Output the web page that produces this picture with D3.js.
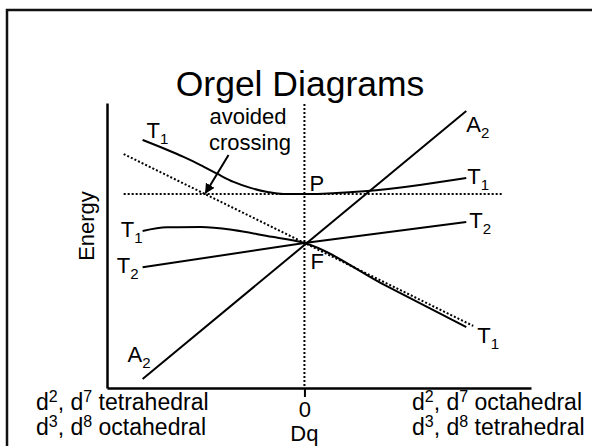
<!DOCTYPE html>
<html>
<head>
<meta charset="utf-8">
<script src="https://cdn.jsdelivr.net/npm/d3@7"></script>
<style>
  body { margin: 0; background: #fff; }
  text { font-family: "Liberation Sans", Arial, sans-serif; fill: #000; }
</style>
</head>
<body>
<div id="chart"></div>
<script>
// energy levels vs Dq (x = Dq, y = energy)
const a2Line = [[-1, -0.84], [1, 0.815]];
const t2Line = [[-1, -0.15], [0, 0], [1, 0.13]];
const t1Lower = [[-1, 0.074], [-0.85, 0.097], [-0.64, 0.098], [-0.44, 0.08], [-0.23, 0.043], [0, 0], [0.5, -0.262], [1, -0.519]];
const t1Upper = [[-1, 0.636], [-0.846, 0.574], [-0.747, 0.531], [-0.642, 0.481], [-0.537, 0.426], [-0.438, 0.377],
                 [-0.333, 0.34], [-0.228, 0.315], [-0.13, 0.302], [0, 0.302], [0.389, 0.321], [1, 0.401]];
// dotted guides
const t1Uncrossed = [[-1.117, 0.549], [1.043, -0.512]];
const pLevel = [[-1.117, 0.302], [1.228, 0.302]];
const dqZero = [[0, 0.858], [0, -0.895]];
const arrowPts = [[-0.469, 0.543], [-0.611, 0.309]];

const tickVals = [0];
const leftLabels = [["d", "2", ", d", "7", " tetrahedral"], ["d", "3", ", d", "8", " octahedral"]];
const rightLabels = [["d", "2", ", d", "7", " octahedral"], ["d", "3", ", d", "8", " tetrahedral"]];

const W = 592, H = 446;
const svg = d3.select("#chart").append("svg")
    .attr("width", W)
    .attr("height", H);

// slide frame
svg.append("rect")
    .attr("x", 7).attr("y", 10)
    .attr("width", W + 20).attr("height", H + 20)
    .attr("fill", "none")
    .attr("stroke", "#111")
    .attr("stroke-width", 2.5);

svg.append("text")
    .attr("x", 300).attr("y", 96)
    .attr("text-anchor", "middle")
    .attr("font-size", 35.5)
    .text("Orgel Diagrams");

const x = d3.scaleLinear().domain([-1.22, 1.4]).range([107, 531]);
const y = d3.scaleLinear().domain([-0.895, 0.864]).range([388, 103]);

const defs = svg.append("defs");
defs.append("marker")
    .attr("id", "arr")
    .attr("viewBox", "0 0 10 10")
    .attr("refX", 9).attr("refY", 5)
    .attr("markerWidth", 5).attr("markerHeight", 5)
    .attr("orient", "auto")
  .append("path")
    .attr("d", "M0,0 L10,5 L0,10 z")
    .attr("fill", "#000");

const line = d3.line().x(d => x(d[0])).y(d => y(d[1]));
const smooth = d3.line().x(d => x(d[0])).y(d => y(d[1])).curve(d3.curveMonotoneX);

// dotted guides first
[t1Uncrossed, pLevel, dqZero].forEach(pts => {
    svg.append("path")
        .attr("d", line(pts))
        .attr("fill", "none")
        .attr("stroke", "#000")
        .attr("stroke-width", 2)
        .attr("stroke-dasharray", "2,2");
});

// axes
svg.append("g")
    .attr("transform", "translate(0," + y.range()[0] + ")")
    .call(d3.axisBottom(x).tickValues(tickVals).tickFormat(d3.format("d")).tickSize(9).tickSizeOuter(0).tickPadding(4))
    .call(g => g.select(".domain").attr("stroke", "#000").attr("stroke-width", 2.5))
    .call(g => g.selectAll(".tick line").attr("stroke", "#000").attr("stroke-width", 2))
    .call(g => g.selectAll(".tick text").attr("font-size", 22).attr("font-family", "Liberation Sans, Arial, sans-serif").attr("fill", "#000"));

svg.append("g")
    .attr("transform", "translate(" + x.range()[0] + ",0)")
    .call(d3.axisLeft(y).tickValues([]).tickSizeOuter(0))
    .call(g => g.select(".domain").attr("stroke", "#000").attr("stroke-width", 2.5));

// level lines
[a2Line, t2Line].forEach(pts => {
    svg.append("path")
        .attr("d", line(pts))
        .attr("fill", "none")
        .attr("stroke", "#000")
        .attr("stroke-width", 2);
});
[t1Lower, t1Upper].forEach(pts => {
    svg.append("path")
        .attr("d", smooth(pts))
        .attr("fill", "none")
        .attr("stroke", "#000")
        .attr("stroke-width", 2);
});

svg.append("path")
    .attr("d", line(arrowPts))
    .attr("stroke", "#000")
    .attr("stroke-width", 2)
    .attr("marker-end", "url(#arr)");

// term symbol labels
function term(px, py, main, sub, anchor) {
    const t = svg.append("text")
        .attr("x", px).attr("y", py)
        .attr("font-size", 22)
        .attr("text-anchor", anchor || "start");
    t.append("tspan").text(main);
    t.append("tspan").attr("font-size", 15).attr("dy", 6).text(sub);
}
const end = (pts, i) => [x(pts[i][0]), y(pts[i][1])];
let p;
p = end(t1Upper, 0);                 term(p[0] + 4, p[1] - 2, "T", "1");
p = end(t1Lower, 0);                 term(p[0], p[1] + 6, "T", "1", "end");
p = end(t2Line, 0);                  term(p[0] - 4, p[1] + 6, "T", "2", "end");
p = end(a2Line, 0);                  term(p[0] - 15, p[1] - 17, "A", "2");
p = end(a2Line, 1);                  term(p[0], p[1] + 21, "A", "2");
p = end(t1Upper, t1Upper.length - 1); term(p[0] + 1, p[1] + 6, "T", "1");
p = end(t2Line, 2);                  term(p[0] + 3, p[1] + 6, "T", "2");
p = end(t1Lower, t1Lower.length - 1); term(p[0] + 11, p[1] + 16, "T", "1");

svg.append("text").attr("x", x(0) + 5).attr("y", y(0.302) - 3).attr("font-size", 22).text("P");
svg.append("text").attr("x", x(0) + 6).attr("y", y(0) + 26).attr("font-size", 22).text("F");

svg.append("text").attr("x", 248).attr("y", 124).attr("text-anchor", "middle").attr("font-size", 22).text("avoided");
svg.append("text").attr("x", 250).attr("y", 150).attr("text-anchor", "middle").attr("font-size", 22).text("crossing");

svg.append("text")
    .attr("transform", "translate(94,226) rotate(-90)")
    .attr("text-anchor", "middle")
    .attr("font-size", 22)
    .text("Energy");

svg.append("text").attr("x", x(0)).attr("y", 441).attr("text-anchor", "middle").attr("font-size", 22).text("Dq");

// bottom descriptions, odd parts are superscripts
function descr(px, py, parts) {
    const t = svg.append("text").attr("x", px).attr("y", py).attr("font-size", 23);
    parts.forEach((part, i) => {
        const sp = t.append("tspan").text(part);
        if (i % 2 === 1) sp.attr("font-size", 16).attr("dy", -8);
        else if (i > 0) sp.attr("dy", 8);
    });
}
leftLabels.forEach((s, i) => descr(36, 410 + i * 25, s));
rightLabels.forEach((s, i) => descr(412, 410 + i * 25, s));
</script>
</body>
</html>
